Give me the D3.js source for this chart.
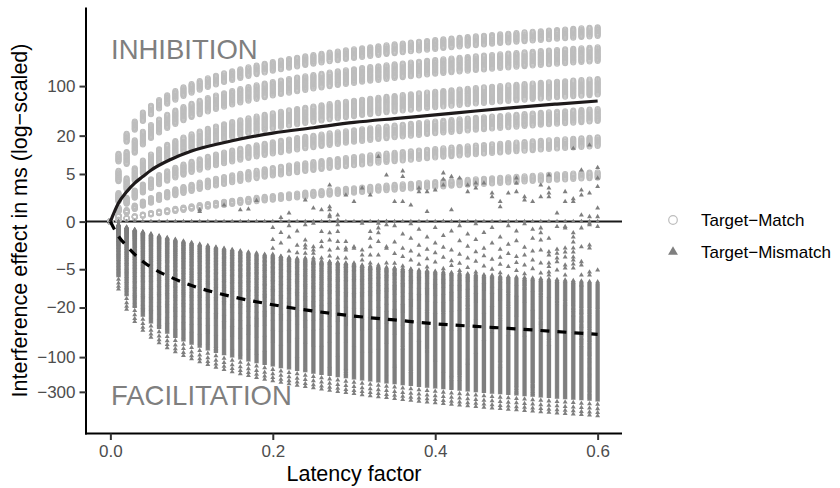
<!DOCTYPE html>
<html>
<head>
<meta charset="utf-8">
<script src="https://cdn.jsdelivr.net/npm/d3@7"></script>
<style>
  html, body { margin: 0; padding: 0; background: #fff; }
  svg { display: block; font-family: "Liberation Sans", Arial, Helvetica, sans-serif; }
</style>
</head>
<body>
<svg id="chart" width="840" height="488"></svg>
<script>
// Simulated latency factors (one column of points per value)
const latencyFactors = [
  0.00, 0.01, 0.02, 0.03, 0.04, 0.05, 0.06, 0.07, 0.08, 0.09,
  0.10, 0.11, 0.12, 0.13, 0.14, 0.15, 0.16, 0.17, 0.18, 0.19,
  0.20, 0.21, 0.22, 0.23, 0.24, 0.25, 0.26, 0.27, 0.28, 0.29,
  0.30, 0.31, 0.32, 0.33, 0.34, 0.35, 0.36, 0.37, 0.38, 0.39,
  0.40, 0.41, 0.42, 0.43, 0.44, 0.45, 0.46, 0.47, 0.48, 0.49,
  0.50, 0.51, 0.52, 0.53, 0.54, 0.55, 0.56, 0.57, 0.58, 0.59, 0.60
];

// Target-match interference effect per unit of latency factor (ms), six parameter tiers
const matchUnitEffects = [
  810, 833, 856, 880, 905, 930, 956, 983, 1011, 1039, 1069,
  369, 380, 391, 402, 414, 426, 439, 452, 465, 479, 493, 507, 522, 538, 553, 570,
  127, 131, 135, 139.5, 144, 148.5, 153, 158, 163, 168, 173.5, 179, 184.5, 190.5, 196.5, 203, 209,
  54, 55.7, 57.4, 59.1, 60.9, 62.8, 64.7, 66.7, 68.8, 70.9, 73.1, 75.3, 77.6, 80,
  23.4, 24.2, 25.0, 25.9, 26.8, 27.7, 28.7, 29.6, 30.7, 31.7,
  7.13, 7.4, 7.7, 8.0, 8.3, 8.6, 8.96
];

// Target-mismatch interference effect per unit of latency factor (ms)
const mismatchUnitEffects = [
  0,
  -13.6, -14.2, -14.7, -15.2, -15.8, -16.4, -17.0, -17.6, -18.2, -18.9, -19.6, -20.3,
  -21.0, -21.7, -22.5, -23.3, -24.1, -25.0, -25.8, -26.7, -27.6, -28.6, -29.6, -30.6,
  -31.7, -32.7, -33.8, -35.0, -36.2, -37.4, -38.7, -40.0, -41.3, -42.7, -44.2, -45.7,
  -47.2, -48.8, -50.4, -52.1, -53.8, -55.6, -57.5, -59.4, -61.4, -63.4, -65.4, -67.6,
  -69.8, -72.2, -74.6, -77.1, -79.6, -82.2, -84.8, -87.6, -90.5, -93.5, -96.5, -99.6,
  -102.8, -106.2, -109.7, -113.3, -117, -120.8, -124.6, -128.7, -132.9, -137.2, -141.6,
  -146.2, -150.9, -155.8, -160.8, -166.0, -171.4, -177.0, -182.8, -188.6, -194.6,
  -201.0, -207.5, -214.2, -221.1, -228.2, -235.4, -243.0, -250.9, -259.0, -267.3,
  -275.9, -284.7, -293.8, -303.3, -313.0, -323.1, -333.5, -344.2, -355.2, -366.6,
  -378.4, -390.5, -403.0, -416, -429, -443, -457, -472, -487, -502, -518, -535,
  -552, -570, -588, -607, -626, -646,
  -740, -850, -960, -1060
];

// Isolated target-mismatch runs near zero: latency factor -> effects in ms
const mismatchScatterLatency = [
  0.11, 0.14, 0.16, 0.17, 0.18, 0.20, 0.21, 0.22, 0.23, 0.24,
  0.25, 0.26, 0.27, 0.28, 0.29, 0.30, 0.31, 0.32, 0.33, 0.34,
  0.35, 0.36, 0.37, 0.38, 0.39, 0.40, 0.41, 0.42, 0.43, 0.44,
  0.45, 0.46, 0.47, 0.48, 0.49, 0.50, 0.51, 0.52, 0.53, 0.54,
  0.55, 0.56, 0.57, 0.58, 0.59, 0.60
];
const mismatchScatterEffects = [
  [0.53, 0.64], [0.99], [0.64], [0.70], [1.35],
  [-0.3, -1.1, -1.9, -2.6],
  [0.2, -0.6, -1.4, -2.9],
  [0.45, -0.2, -0.9, -2.2, -3.1],
  [-0.5, -1.6, -2.4, -3.5],
  [1.40, -0.16, -1.13, -1.57, -1.87, -2.47, -3.09],
  [0.77, -0.08, -1.74, -2.08, -2.47, -3.09, -3.86],
  [0.64, -0.54, -1.27, -1.74, -3.09, -3.86],
  [3.12, 0.86, 0.64, 0.33, 0.24, -0.62, -1.13, -2.08, -2.81, -3.65],
  [0.33, 0.07, -0.16, -0.54, -1.27, -1.90, -3.09, -3.86],
  [1.89, -1.27, -1.87, -2.08, -3.09, -3.86, -4.51],
  [1.26, -1.74, -1.90, -3.86, -4.20],
  [2.71, -0.08, -2.08, -2.68, -3.38, -4.51],
  [1.89, -0.54, -1.0, -1.74, -2.68, -3.86, -4.76],
  [9.64, -0.08, -0.32, -0.62, -1.27, -2.68, -4.20, -4.76],
  [4.80, 0.0, -0.16, -1.74, -1.90, -3.86, -5.16],
  [1.26, -0.2, -1.3, -2.5, -3.9, -4.8],
  [5.64, 4.48, 1.26, -0.7, -1.9, -2.9, -4.4],
  [0.99, -0.1, -1.0, -2.2, -3.4, -5.0],
  [2.71, 2.24, -0.4, -1.6, -2.7, -4.1],
  [2.25, 0.53, -0.9, -2.0, -3.2, -4.6, -5.5],
  [2.45, -0.3, -1.4, -2.4, -3.7],
  [5.21, 4.00, 3.12, 0.0, -0.8, -1.8, -3.0, -4.9],
  [4.48, 0.64, -0.5, -2.1, -3.5, -4.3],
  [4.24, -0.2, -1.2, -2.6, -3.9, -5.3],
  [3.12, 2.25, -0.7, -1.7, -3.1, -4.7],
  [3.40, 2.71, -0.1, -1.1, -2.3, -3.6, -5.6],
  [3.40, -0.6, -1.9, -2.8, -4.4],
  [2.10, 1.69, -0.3, -1.4, -3.3, -5.0],
  [1.26, 0.86, -0.9, -2.0, -3.0, -4.1, -5.8],
  [2.10, -0.2, -1.5, -2.5, -4.5],
  [4.24, 3.40, 2.25, -0.5, -1.2, -2.9, -3.8, -5.3],
  [1.69, 1.40, -0.1, -1.8, -2.7, -4.2, -6.0],
  [1.26, -0.4, -1.0, -2.2, -3.4, -4.9],
  [3.12, 1.69, -0.32, -0.62, -1.13, -2.08, -3.86, -5.81],
  [4.80, 2.71, 2.10, 1.69, -1.0, -2.28, -2.68, -3.86, -4.51, -5.59, -6.28],
  [0.45, -0.25, -2.0, -2.47, -3.09, -3.65, -5.16],
  [2.25, 1.26, -0.25, -0.32, -1.87, -2.31, -2.95, -4.20, -4.76, -6.28],
  [13.0, 1.50, 1.26, -0.62, -0.90, -1.30, -1.87, -2.31, -2.95, -3.38, -4.03, -4.76],
  [5.86, 2.45, 1.89, 0.33, -0.32, -1.74, -3.65, -4.20, -6.28, -9.12],
  [14.5, 2.10, 0.24, -0.08, -0.16, -1.57, -1.87, -5.59, -6.28],
  [6.41, 4.24, 2.88, 0.77, 0.24, -0.25, -5.16]
];

// Mean interference effect by latency factor (ms)
const meanLatency  = [0, 0.01, 0.02, 0.03, 0.04, 0.05, 0.075, 0.1, 0.15, 0.2, 0.25, 0.3, 0.35, 0.4, 0.45, 0.5, 0.55, 0.6];
const meanMatch    = [0, 1.15, 2.25, 3.4, 4.5, 5.8, 8.8, 11.8, 16.8, 21.8, 26.0, 31.0, 35.2, 39.6, 45.0, 50.7, 56.3, 62.1];
const meanMismatch = [0, -0.85, -1.65, -2.6, -3.6, -4.6, -6.9, -9.3, -13.8, -18.2, -22.5, -26.6, -30.2, -34.3, -37.3, -40.4, -44.2, -48.2];

const yTicks = [100, 20, 5, 0, -5, -20, -100, -300];
const xTicks = [0, 0.2, 0.4, 0.6];
const legendLabels = ["Target\u2212Match", "Target\u2212Mismatch"];

const svg = d3.select("#chart");
const panel = { left: 86, right: 622, top: 7.5, bottom: 433.5 };

const x = d3.scaleLinear().domain([-0.03, 0.63]).range([panel.left, panel.right]);
const y = d3.scaleSymlog().constant(1.45).domain([-1111, 1190]).range([panel.bottom, panel.top]);

const matchColor = "#bdbdbd";
const mismatchColor = "#7f7f7f";

// zero reference line
svg.append("line")
  .attr("x1", panel.left).attr("x2", panel.right)
  .attr("y1", y(0)).attr("y2", y(0))
  .attr("stroke", "#1a1a1a").attr("stroke-width", 2);

// Target-match points (open circles)
const matchPts = [];
latencyFactors.forEach(f => matchUnitEffects.forEach(u => matchPts.push([f, f * u])));
svg.append("g")
  .selectAll("circle").data(matchPts).join("circle")
  .attr("cx", d => x(d[0])).attr("cy", d => y(d[1])).attr("r", 2.45)
  .attr("fill", "none").attr("stroke", matchColor).attr("stroke-width", 1.1);

// Target-mismatch points (filled triangles)
const mismatchPts = [];
latencyFactors.forEach(f => mismatchUnitEffects.forEach(u => mismatchPts.push([f, f * u])));
mismatchScatterLatency.forEach((f, i) => mismatchScatterEffects[i].forEach(v => mismatchPts.push([f, v])));
const tri = d3.symbol(d3.symbolTriangle).size(10.5);
svg.append("g")
  .selectAll("path").data(mismatchPts).join("path")
  .attr("d", tri)
  .attr("transform", d => `translate(${x(d[0])},${y(d[1])})`)
  .attr("fill", mismatchColor);

// mean lines
const lineGen = d3.line().x(d => x(d[0])).y(d => y(d[1])).curve(d3.curveMonotoneX);
svg.append("path")
  .datum(meanLatency.map((f, i) => [f, meanMatch[i]]))
  .attr("d", lineGen)
  .attr("fill", "none").attr("stroke", "#1e1a1b").attr("stroke-width", 3.2);
svg.append("path")
  .datum(meanLatency.map((f, i) => [f, meanMismatch[i]]))
  .attr("d", lineGen)
  .attr("fill", "none").attr("stroke", "#000").attr("stroke-width", 3.2)
  .attr("stroke-dasharray", "9,8");

// region labels
svg.append("text").attr("x", 111).attr("y", 59)
  .attr("font-size", 27.5).attr("fill", "#7f7f7f").text("INHIBITION");
svg.append("text").attr("x", 111).attr("y", 405)
  .attr("font-size", 27.5).attr("fill", "#7f7f7f").text("FACILITATION");

// axes
const fmtY = d => d < 0 ? "\u2212" + Math.abs(d) : String(d);
const yAxis = svg.append("g").attr("transform", `translate(${panel.left},0)`)
  .call(d3.axisLeft(y).tickValues(yTicks).tickFormat(fmtY).tickSize(6.5).tickSizeOuter(0).tickPadding(4));
const xAxis = svg.append("g").attr("transform", `translate(0,${panel.bottom})`)
  .call(d3.axisBottom(x).tickValues(xTicks).tickFormat(d3.format(".1f")).tickSize(6.5).tickSizeOuter(0).tickPadding(5));

[yAxis, xAxis].forEach(g => {
  g.select(".domain").attr("stroke", "#000").attr("stroke-width", 2);
  g.selectAll(".tick line").attr("stroke", "#333").attr("stroke-width", 2);
  g.selectAll(".tick text").attr("fill", "#4d4d4d").attr("font-size", 17)
    .attr("font-family", "\"Liberation Sans\", Arial, Helvetica, sans-serif");
});
yAxis.select(".domain").attr("d", `M0,${panel.top}V${panel.bottom + 1}`);
xAxis.select(".domain").attr("d", `M${panel.left - 1},0H${panel.right}`);

// axis titles
svg.append("text")
  .attr("x", (panel.left + panel.right) / 2).attr("y", 481)
  .attr("text-anchor", "middle").attr("font-size", 21.5).attr("fill", "#000")
  .text("Latency factor");
svg.append("text")
  .attr("transform", `translate(27,${(panel.top + panel.bottom) / 2}) rotate(-90)`)
  .attr("text-anchor", "middle").attr("font-size", 21.5).attr("fill", "#000")
  .text("Interference effect in ms (log\u2212scaled)");

// legend
const legend = svg.append("g");
legend.append("circle").attr("cx", 673).attr("cy", 220).attr("r", 4.3)
  .attr("fill", "none").attr("stroke", matchColor).attr("stroke-width", 1.2);
legend.append("path").attr("d", d3.symbol(d3.symbolTriangle).size(42))
  .attr("transform", "translate(673,252)").attr("fill", mismatchColor);
legend.selectAll("text").data(legendLabels).join("text")
  .attr("x", 701).attr("y", (d, i) => 220 + i * 32)
  .attr("dy", "0.35em").attr("font-size", 17).attr("fill", "#000")
  .text(d => d);
</script>
</body>
</html>
